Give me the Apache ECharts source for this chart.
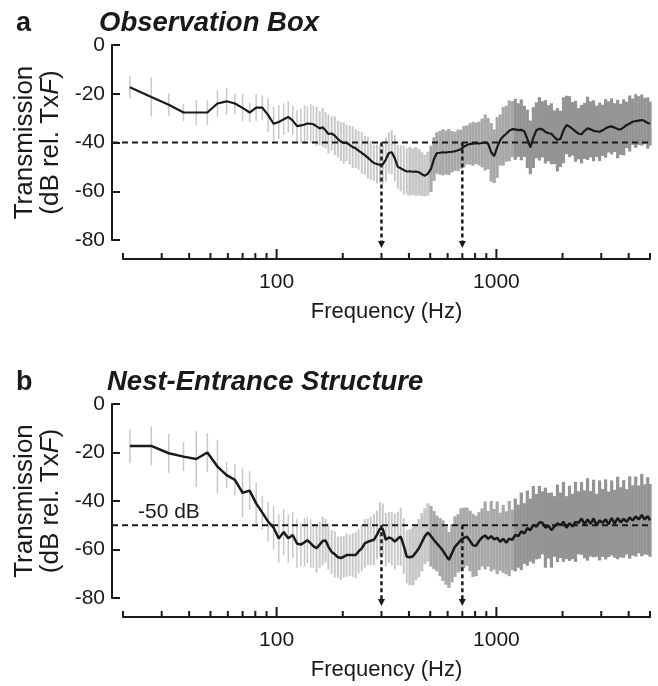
<!DOCTYPE html>
<html>
<head>
<meta charset="utf-8">
<script src="https://cdn.jsdelivr.net/npm/echarts@6/dist/echarts.min.js"></script>
<style>
  html, body { margin: 0; padding: 0; background: #fff; }
  #chart { width: 658px; height: 686px; }
</style>
</head>
<body>
<div id="chart"></div>
<script>
// frequency bins (Hz), shared by both panels
const freqs = [
  21.5, 26.9, 32.3, 37.7, 43.1, 48.4, 53.8, 59.2, 64.6, 70.0,
  75.4, 80.7, 86.1, 91.5, 96.9, 102.3, 107.7, 113.0, 118.4, 123.8,
  129, 134, 138, 143, 147, 152, 157, 162, 167, 172,
  178, 184, 190, 196, 202, 208, 215, 222, 229, 236,
  244, 252, 260, 268, 277, 286, 295, 304, 314, 324,
  334, 345, 356, 367, 379, 391, 404, 417, 430, 444,
  458, 473, 488, 504, 520, 536, 554, 571, 590, 608,
  628, 648, 669, 690, 712, 735, 759, 783, 808, 834,
  861, 889, 917, 947, 977, 1008, 1041, 1074, 1109, 1144,
  1181, 1219, 1258, 1298, 1340, 1383, 1427, 1473, 1520, 1569,
  1619, 1671, 1725, 1780, 1837, 1896, 1957, 2020, 2084, 2151,
  2220, 2291, 2365, 2440, 2519, 2599, 2683, 2769, 2857, 2949,
  3043, 3141, 3241, 3345, 3452, 3563, 3677, 3795, 3916, 4042,
  4171, 4305, 4443, 4585, 4732, 4883, 5000
];

// panel a: observation box, mean transmission (dB) and error half-width
const meanObs = [
  -17.3, -21.3, -24.5, -27.7, -27.7, -27.7, -24.0, -23.1, -24.0, -25.8,
  -27.7, -25.7, -25.7, -28.8, -32.3, -31.6, -30.5, -29.5, -31.0, -33.3,
  -33.0, -32.6, -32.2, -32.3, -32.5, -33.4, -34.2, -33.8, -35.0, -36.5,
  -36.3, -37.2, -38.6, -39.6, -40.2, -40.1, -41.0, -41.9, -42.4, -43.3,
  -44.3, -45.2, -46.2, -47.3, -48.4, -48.8, -49.2, -49.0, -47.0, -44.3,
  -44.0, -46.5, -50.0, -50.6, -51.3, -51.9, -51.8, -52.0, -51.9, -52.2,
  -53.0, -53.6, -52.8, -50.8, -46.8, -44.3, -44.2, -44.0, -44.1, -43.9,
  -43.8, -43.6, -43.2, -42.8, -41.7, -41.0, -40.6, -40.5, -40.3, -40.4,
  -40.2, -40.0, -40.5, -44.0, -45.6, -42.0, -39.0, -37.5, -36.4, -35.2,
  -34.5, -34.6, -34.9, -34.8, -35.4, -38.5, -42.0, -38.0, -35.0, -34.4,
  -34.6, -35.6, -36.2, -36.4, -37.8, -38.9, -38.5, -35.0, -32.8, -33.5,
  -34.4, -35.4, -36.4, -36.6, -35.2, -34.2, -34.6, -35.2, -35.4, -35.6,
  -35.0, -34.2, -33.6, -33.4, -33.9, -34.5, -34.6, -33.8, -32.8, -32.2,
  -31.5, -31.2, -31.0, -30.8, -31.2, -32.0, -32.3
];
const errObs = [
  4.5, 8, 4.5, 3.5, 5, 5, 5.5, 5.5, 4, 5.5,
  4, 5.5, 5, 7, 7, 7, 6.5, 6.5, 6, 6.5,
  7, 8, 7, 8, 7.5, 8, 7, 8, 7.5, 8,
  7, 8, 7.5, 8, 8.5, 7.5, 8, 8.5, 8, 8,
  8.5, 8, 8.5, 8, 7.5, 8, 7.5, 8, 9, 8.5,
  9, 9.5, 9, 9.5, 10, 9.5, 10, 9.5, 10, 9.5,
  9, 8.5, 9, 9.5, 9, 8.5, 9, 9.5, 9, 9.5,
  8.5, 8, 8.5, 8, 8.5, 8, 8.5, 9, 8.5, 9,
  10, 11.5, 10.5, 12, 11, 12.5, 10.5, 12, 11.5, 12.5,
  11.5, 12.5, 11, 12.5, 10.5, 12, 11, 12.5, 11.5, 13,
  11.5, 13, 11.5, 12.5, 11, 13, 11.5, 13.5, 12, 12.5,
  11, 12.5, 10.5, 12, 11.5, 13, 11.5, 12.5, 10.5, 12,
  10.5, 12, 10.5, 11.5, 10, 12, 10.5, 11.5, 9.5, 11.5,
  9.5, 11, 10, 10.5, 9.5, 10.5, 9
];

// panel b: nest-entrance structure
const meanNest = [
  -17.3, -17.3, -20.3, -21.7, -22.7, -20.0, -25.8, -29.3, -31.3, -36.6,
  -35.7, -41.0, -44.8, -48.5, -51.0, -55.5, -52.8, -55.4, -54.0, -57.5,
  -58.0, -57.0, -56.2, -57.5, -58.6, -59.5, -58.0, -56.5, -56.3, -58.8,
  -61.0, -62.0, -63.2, -63.5, -63.0, -62.3, -62.3, -62.3, -62.3, -60.8,
  -59.5, -57.5, -56.8, -56.4, -56.0, -54.0, -51.5, -51.5, -56.0, -55.0,
  -55.5, -56.8, -55.5, -54.7, -58.5, -63.0, -63.2, -62.8, -61.2, -59.5,
  -57.0, -54.5, -53.0, -54.5, -56.1, -57.5, -59.0, -60.5, -62.5, -64.3,
  -61.5, -58.8, -57.5, -56.0, -55.2, -54.7, -56.5, -58.3, -58.5, -56.5,
  -55.0, -54.2, -55.6, -54.5, -55.8, -55.2, -56.8, -55.6, -57.2, -55.5,
  -56.0, -54.0, -54.5, -52.5, -53.4, -51.2, -52.0, -49.8, -50.6, -48.8,
  -49.0, -51.0, -50.2, -52.0, -50.5, -49.2, -50.0, -48.6, -51.0, -49.2,
  -50.5, -48.6, -49.0, -47.2, -49.6, -47.6, -49.4, -47.2, -50.0, -48.0,
  -49.0, -47.6, -49.6, -47.0, -49.4, -47.0, -48.8, -47.4, -48.6, -46.8,
  -48.0, -46.4, -47.6, -45.8, -47.6, -46.2, -48.0
];
const errNest = [
  7, 8, 8, 6, 11.5, 8, 11, 5.5, 6.5, 10,
  8, 8.5, 7, 8, 9, 10, 9.5, 10, 9.5, 10,
  9, 10, 9.5, 10, 9, 10, 9.5, 10, 9, 9.5,
  9, 9.5, 8.5, 9, 8.5, 9, 8.5, 9, 9.5, 9,
  9.5, 10, 9.5, 10, 10.5, 10, 11, 10.5, 11, 10.5,
  11, 11.5, 11, 12, 11.5, 11, 11.5, 12, 11.5, 12,
  12, 11.5, 12, 12.5, 12, 11.5, 12, 12.5, 12, 11.5,
  12, 12.5, 12, 13, 12.5, 12, 12.5, 13, 12.5, 12,
  12, 14, 11.5, 14.5, 12.5, 15, 12, 14, 13, 15.5,
  12.5, 15, 13, 16, 12.5, 15.5, 13, 16, 13.5, 15,
  13, 16.5, 13.5, 15.5, 12.5, 16, 13.5, 16.5, 13, 15.5,
  13.5, 16.5, 13, 15, 14, 17, 13.5, 16, 13, 16.5,
  14, 16.5, 13.5, 15.5, 14, 17, 14.5, 16, 13.5, 17,
  14.5, 16.5, 14, 17, 14.5, 16, 15
];

const panelLetters = ['a', 'b'];
const panelTitles = ['Observation Box', 'Nest-Entrance Structure'];
const panelMeans = [meanObs, meanNest];
const panelErrs = [errObs, errNest];
const refLevels = [-40, -50];
const refLabels = ['', '-50 dB'];
const arrowFreqs = [300, 700];
const tickFreqs = [20, 30, 40, 50, 60, 70, 80, 90, 100, 200, 300, 400, 500, 600, 700, 800, 900, 1000, 2000, 3000, 4000, 5000];
const majorTickFreqs = [100, 1000];
const xMin = 20, xMax = 5000, yMin = -80, yMax = 0;

const ink = '#1a1a1a';
const font = "'Liberation Sans', Arial, Helvetica, sans-serif";
const grids = [
  { left: 123, top: 45, width: 527, height: 195 },
  { left: 123, top: 404, width: 527, height: 194 }
];
const xAxisOffset = 19;
const yAxisOffset = 11;

function barColor(f) {
  if (f < 500) return '#c8c8c8';
  if (f < 1200) return '#a8a8a8';
  return '#949494';
}
function barWidth(f) {
  if (f < 150) return 1.5;
  if (f < 400) return 2;
  return 3.2;
}

function renderErrorBar(params, api) {
  const f = api.value(0);
  const m = api.value(1);
  const e = api.value(2);
  const top = api.coord([f, m + e]);
  const bot = api.coord([f, m - e]);
  return {
    type: 'line',
    shape: { x1: top[0], y1: top[1], x2: bot[0], y2: bot[1] },
    style: { stroke: barColor(f), lineWidth: barWidth(f) }
  };
}

function renderTick(params, api) {
  const f = api.value(0);
  const p = api.coord([f, yMin]);
  const y = p[1] + xAxisOffset;
  const len = majorTickFreqs.indexOf(f) >= 0 ? 10 : 6;
  return {
    type: 'line',
    shape: { x1: p[0], y1: y, x2: p[0], y2: y - len },
    style: { stroke: ink, lineWidth: 2 }
  };
}

function makeRefRenderer(label) {
  return function (params, api) {
    const level = api.value(1);
    const l = api.coord([xMin, level]);
    const r = api.coord([xMax, level]);
    const children = [{
      type: 'line',
      shape: { x1: l[0] - yAxisOffset, y1: l[1], x2: r[0], y2: r[1] },
      style: { stroke: ink, lineWidth: 2, lineDash: [6, 4] }
    }];
    if (label) {
      children.push({
        type: 'text',
        x: l[0] + 15, y: l[1] - 13,
        style: { text: label, font: '21px ' + font, fill: ink, textVerticalAlign: 'middle', textAlign: 'left' }
      });
    }
    return { type: 'group', children: children };
  };
}

function renderArrow(params, api) {
  const f = api.value(0);
  const level = api.value(1);
  const s = api.coord([f, level]);
  const e = api.coord([f, yMin]);
  const tip = e[1] + 8;
  return {
    type: 'group',
    children: [
      {
        type: 'line',
        shape: { x1: s[0], y1: s[1], x2: s[0], y2: tip - 5 },
        style: { stroke: ink, lineWidth: 2.5, lineDash: [4, 3] }
      },
      {
        type: 'polygon',
        shape: { points: [[s[0] - 3.5, tip - 7], [s[0] + 3.5, tip - 7], [s[0], tip]] },
        style: { fill: ink }
      }
    ]
  };
}

const title = [];
const xAxis = [];
const yAxis = [];
const series = [];

[0, 1].forEach(function (i) {
  const g = grids[i];
  title.push({
    text: panelLetters[i], left: 16, top: g.top - 35, padding: 0,
    textStyle: { fontSize: 27, fontWeight: 'bold', color: ink, fontFamily: font }
  });
  title.push({
    text: panelTitles[i], left: i === 0 ? 99 : 107, top: g.top - 35, padding: 0,
    textStyle: { fontSize: i === 0 ? 27.5 : 27.5, fontWeight: 'bold', fontStyle: 'italic', color: ink, fontFamily: font }
  });

  xAxis.push({
    type: 'log', logBase: 10, gridIndex: i, min: xMin, max: xMax, offset: xAxisOffset,
    axisLine: { show: true, onZero: false, lineStyle: { color: ink, width: 2 } },
    axisTick: { show: false },
    minorTick: { show: false },
    splitLine: { show: false },
    axisLabel: {
      fontSize: 21, color: ink, fontFamily: font, margin: 13,
      formatter: function (v) {
        const e = Math.log10(v);
        return Math.abs(e - Math.round(e)) < 1e-6 ? String(Math.round(v)) : '';
      }
    },
    name: 'Frequency (Hz)', nameLocation: 'middle', nameGap: 42,
    nameTextStyle: { fontSize: 22, color: ink, fontFamily: font }
  });

  yAxis.push({
    type: 'value', gridIndex: i, min: yMin, max: yMax, interval: 20, offset: yAxisOffset,
    axisLine: { show: true, lineStyle: { color: ink, width: 2 } },
    axisTick: { show: true, inside: true, length: 8, lineStyle: { color: ink, width: 2 } },
    splitLine: { show: false },
    axisLabel: { fontSize: 21, color: ink, fontFamily: font, margin: 7 },
    name: 'Transmission\n(dB rel. Tx{i|F})', nameLocation: 'middle', nameRotate: 90, nameGap: 48,
    nameTextStyle: {
      fontSize: 26, lineHeight: 26, color: ink, fontFamily: font,
      rich: { i: { fontStyle: 'italic', fontSize: 26, lineHeight: 26, color: ink, fontFamily: font } }
    }
  });

  const mean = panelMeans[i];
  const err = panelErrs[i];

  series.push({
    type: 'custom', name: 'sd' + i, xAxisIndex: i, yAxisIndex: i, z: 1, clip: false,
    renderItem: renderErrorBar,
    encode: { x: 0, y: 1 },
    data: freqs.map(function (f, k) { return [f, mean[k], err[k]]; })
  });
  series.push({
    type: 'custom', name: 'ref' + i, xAxisIndex: i, yAxisIndex: i, z: 2, clip: false,
    renderItem: makeRefRenderer(refLabels[i]),
    encode: { x: 0, y: 1 },
    data: [[xMin, refLevels[i]]]
  });
  series.push({
    type: 'line', name: 'mean' + i, xAxisIndex: i, yAxisIndex: i, z: 3,
    showSymbol: false, symbol: 'none',
    lineStyle: { color: ink, width: i === 0 ? 2.2 : 2.5 },
    data: freqs.map(function (f, k) { return [f, mean[k]]; })
  });
  series.push({
    type: 'custom', name: 'arrow' + i, xAxisIndex: i, yAxisIndex: i, z: 4, clip: false,
    renderItem: renderArrow,
    encode: { x: 0, y: 1 },
    data: arrowFreqs.map(function (f) { return [f, refLevels[i]]; })
  });
  series.push({
    type: 'custom', name: 'ticks' + i, xAxisIndex: i, yAxisIndex: i, z: 4, clip: false,
    renderItem: renderTick,
    encode: { x: 0, y: 1 },
    data: tickFreqs.map(function (f) { return [f, yMin]; })
  });
});

const chart = echarts.init(document.getElementById('chart'), null, { renderer: 'canvas' });
chart.setOption({
  animation: false,
  backgroundColor: '#fff',
  title: title,
  grid: grids,
  xAxis: xAxis,
  yAxis: yAxis,
  series: series
});
</script>
</body>
</html>
